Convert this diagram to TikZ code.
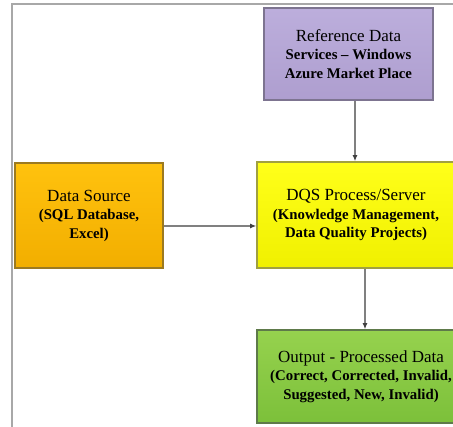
\documentclass[tikz,border=0pt]{standalone}
\usepackage{fontspec}
\setmainfont{Liberation Serif}
\usetikzlibrary{arrows.meta}
\definecolor{framegray}{HTML}{A8A8A8}
\definecolor{linegray}{HTML}{808080}
\definecolor{tipgray}{HTML}{404040}
\definecolor{purpA}{HTML}{BCAEDC}
\definecolor{purpB}{HTML}{AE9ECF}
\definecolor{purpD}{HTML}{7D7490}
\definecolor{oranA}{HTML}{F2AE00}
\definecolor{oranB}{HTML}{FFC20E}
\definecolor{oranD}{HTML}{9C7A20}
\definecolor{yelA}{HTML}{FFFF1A}
\definecolor{yelB}{HTML}{F0F000}
\definecolor{yelD}{HTML}{A0A040}
\definecolor{grnA}{HTML}{96D24E}
\definecolor{grnB}{HTML}{7CC03A}
\definecolor{grnD}{HTML}{5E7A4A}
\tikzset{
  box/.style={draw, line width=1.6pt, inner sep=2pt, align=center, text=black,
    font=\fontsize{17}{18.5}\selectfont},
  arr/.style={draw=linegray, line width=1.1pt, -{Latex[length=6pt,width=5pt,fill=tipgray,color=tipgray]}}
}
\newcommand{\sbl}[1]{{\bfseries\fontsize{14.8}{18.5}\selectfont #1}}
\begin{document}
\begin{tikzpicture}[x=1pt,y=-1pt]
\useasboundingbox (0,0) rectangle (453,427);
\clip (0,0) rectangle (453,427);
\fill[white] (0,0) rectangle (453,427);
% frame
\draw[framegray, line width=2pt] (11.5,427) -- (11.5,4.5) -- (453,4.5);
% boxes
\node[box, draw=purpD, top color=purpA, bottom color=purpB,
  minimum width=169pt, minimum height=92pt] (ref) at (348.5,54)
  {Reference Data\\ \sbl{Services -- Windows}\\ \sbl{Azure Market Place}};
\node[box, draw=oranD, top color=oranB, bottom color=oranA,
  minimum width=148pt, minimum height=105pt] (src) at (89,215.5)
  {Data Source\\ \sbl{(SQL Database,}\\ \sbl{Excel)}};
\node[box, draw=yelD, top color=yelA, bottom color=yelB,
  minimum width=198pt, minimum height=106pt] (dqs) at (356,215)
  {DQS Process/Server\\ \sbl{(Knowledge Management,}\\ \sbl{Data Quality Projects)}};
\node[box, draw=grnD, top color=grnA, bottom color=grnB,
  minimum width=208pt, minimum height=93pt] (out) at (361,376.5)
  {Output - Processed Data\\ \sbl{(Correct, Corrected, Invalid,}\\ \sbl{Suggested, New, Invalid)}};
% connectors
\coordinate (c1) at (355,0);
\coordinate (c2) at (365,0);
\coordinate (c3) at (0,226);
\draw[arr] (ref.south -| c1) -- (dqs.north -| c1);
\draw[arr] (src.east |- c3) -- (dqs.west |- c3);
\draw[arr] (dqs.south -| c2) -- (out.north -| c2);
\end{tikzpicture}
\end{document}
